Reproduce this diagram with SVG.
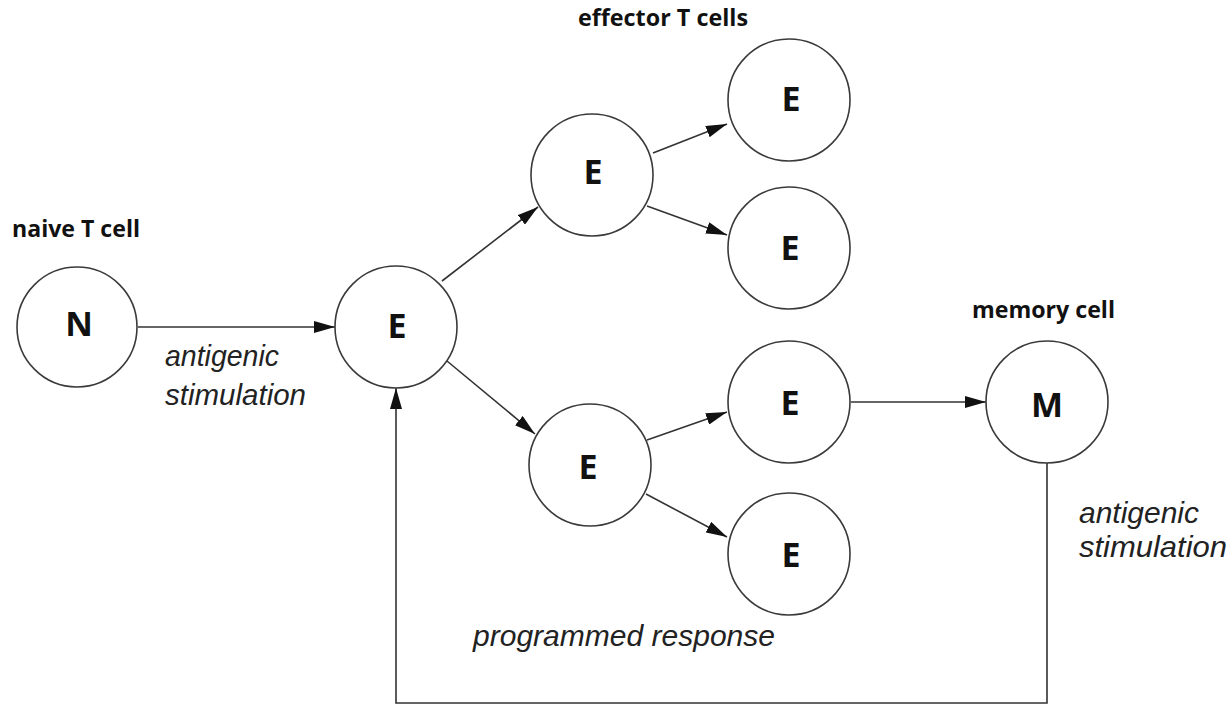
<svg xmlns="http://www.w3.org/2000/svg" width="1232" height="704" viewBox="0 0 1232 704">
  <style>
    .cell { fill: #ffffff; stroke: #3a3a3a; stroke-width: 1.6; }
    .letter { font-family: "Open Sans", "Liberation Sans", sans-serif; font-weight: 700; font-size: 34px; fill: #111111; text-anchor: middle; }
    .title { font-family: "Open Sans", "Liberation Sans", sans-serif; font-weight: 700; font-size: 24px; fill: #111111; }
    .note { font-family: "Liberation Sans", Arial, sans-serif; font-style: italic; font-size: 30px; fill: #222222; }
    .link { fill: none; stroke: #333333; stroke-width: 1.6; }
  </style>
  <defs>
    <marker id="head" markerUnits="userSpaceOnUse" markerWidth="22" markerHeight="12" refX="21" refY="6" orient="auto">
      <path d="M0,0 L21,6 L0,12 Z" fill="#111111"/>
    </marker>
  </defs>
  <rect width="1232" height="704" fill="#ffffff"/>

  <!-- arrows between cells -->
  <g id="connectors">
    <line class="link" x1="138" y1="327" x2="335" y2="327" marker-end="url(#head)"/>
    <line class="link" x1="442" y1="281" x2="538" y2="207" marker-end="url(#head)"/>
    <line class="link" x1="653" y1="153" x2="727" y2="124" marker-end="url(#head)"/>
    <line class="link" x1="647" y1="206" x2="727" y2="235" marker-end="url(#head)"/>
    <line class="link" x1="447" y1="361" x2="535" y2="434" marker-end="url(#head)"/>
    <line class="link" x1="647" y1="440" x2="727" y2="412" marker-end="url(#head)"/>
    <line class="link" x1="646" y1="494" x2="727" y2="537" marker-end="url(#head)"/>
    <line class="link" x1="851" y1="402" x2="986" y2="402" marker-end="url(#head)"/>
    <!-- restimulation loop from memory cell back to the first effector -->
    <polyline class="link" points="1047,463 1047,703 396,703 396,388" marker-end="url(#head)"/>
  </g>

  <g id="node-naive">
    <circle class="cell" cx="77" cy="327" r="60"/>
    <text class="letter" x="79" y="336">N</text>
  </g>
  <g id="node-effector-1">
    <circle class="cell" cx="396" cy="327" r="61"/>
    <text class="letter" x="397" y="338">E</text>
  </g>
  <g id="node-effector-2a">
    <circle class="cell" cx="592" cy="175" r="61"/>
    <text class="letter" x="593" y="184">E</text>
  </g>
  <g id="node-effector-2b">
    <circle class="cell" cx="590" cy="465" r="61"/>
    <text class="letter" x="588" y="479">E</text>
  </g>
  <g id="node-effector-3a">
    <circle class="cell" cx="789" cy="100" r="61"/>
    <text class="letter" x="791" y="111">E</text>
  </g>
  <g id="node-effector-3b">
    <circle class="cell" cx="789" cy="248" r="61"/>
    <text class="letter" x="790" y="260">E</text>
  </g>
  <g id="node-effector-3c">
    <circle class="cell" cx="789" cy="402" r="61"/>
    <text class="letter" x="790" y="415">E</text>
  </g>
  <g id="node-effector-3d">
    <circle class="cell" cx="789" cy="554" r="61"/>
    <text class="letter" x="791" y="567">E</text>
  </g>
  <g id="node-memory">
    <circle class="cell" cx="1047" cy="402" r="61"/>
    <text class="letter" x="1047" y="417">M</text>
  </g>

  <!-- headings -->
  <text class="title" x="12" y="237" textLength="128" lengthAdjust="spacingAndGlyphs">naive T cell</text>
  <text class="title" x="578" y="26" textLength="170" lengthAdjust="spacingAndGlyphs">effector T cells</text>
  <text class="title" x="972" y="318" textLength="143" lengthAdjust="spacingAndGlyphs">memory cell</text>

  <!-- process notes -->
  <text class="note" x="165" y="366" textLength="114" lengthAdjust="spacingAndGlyphs">antigenic</text>
  <text class="note" x="165" y="405" textLength="141" lengthAdjust="spacingAndGlyphs">stimulation</text>
  <text class="note" x="1079" y="523" textLength="120" lengthAdjust="spacingAndGlyphs">antigenic</text>
  <text class="note" x="1079" y="557" textLength="148" lengthAdjust="spacingAndGlyphs">stimulation</text>
  <text class="note" x="473" y="646" textLength="302" lengthAdjust="spacingAndGlyphs">programmed response</text>
</svg>
